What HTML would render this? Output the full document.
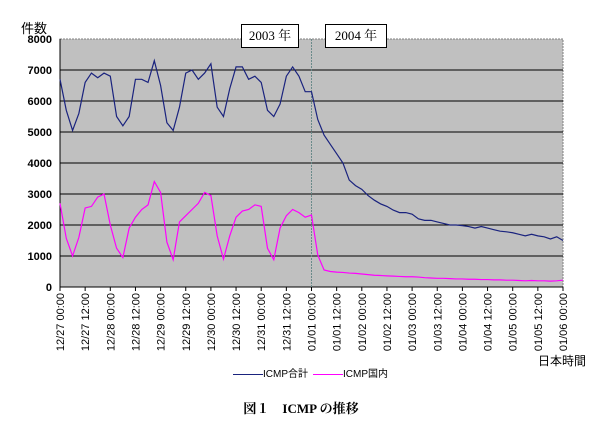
<!DOCTYPE html>
<html><head><meta charset="utf-8"><style>
body{margin:0;background:#fff;width:602px;height:425px;overflow:hidden}
svg{display:block}
</style></head><body>
<svg id="c" width="602" height="425" xmlns="http://www.w3.org/2000/svg"></svg>
<script>
const xLabels=["12/27 00:00","12/27 12:00","12/28 00:00","12/28 12:00","12/29 00:00","12/29 12:00","12/30 00:00","12/30 12:00","12/31 00:00","12/31 12:00","01/01 00:00","01/01 12:00","01/02 00:00","01/02 12:00","01/03 00:00","01/03 12:00","01/04 00:00","01/04 12:00","01/05 00:00","01/05 12:00","01/06 00:00"];
const yTicks=[0,1000,2000,3000,4000,5000,6000,7000,8000];
const totalSeries=[6700,5700,5050,5600,6600,6900,6750,6900, 6800,5500,5200,5500,6700,6700,6600,7300, 6500,5300,5050,5800,6900,7000,6700,6900, 7200,5800,5500,6400,7100,7100,6700,6800, 6600,5700,5500,5900,6800,7100,6800,6300, 6300,5400,4900,4600,4300,4000,3450,3270, 3150,2950,2800,2680,2600,2480,2400,2400, 2350,2200,2150,2150,2100,2050,2000,2000, 1980,1950,1900,1950,1900,1850,1800,1780, 1750,1700,1650,1700,1650,1620,1550,1620, 1500];
const domesticSeries=[2700,1570,1000,1600,2550,2600,2900,3000, 2000,1250,950,1900,2250,2500,2650,3400, 3050,1450,880,2100,2300,2500,2700,3050, 2950,1650,900,1650,2250,2450,2500,2650, 2600,1250,880,1900,2300,2500,2400,2250, 2320,1030,550,500,480,470,450,440, 420,400,380,370,360,350,340,330, 330,320,300,290,280,280,270,260, 260,250,250,240,240,230,230,220, 220,210,200,210,200,200,190,200, 220];
const NS="http://www.w3.org/2000/svg";
const svg=document.getElementById('c');
const L=60,R=563,T=39,B=287;
const sx=i=>L+(R-L)*i/(totalSeries.length-1);
const sy=v=>B-(B-T)*v/8000;
function mk(tag,attrs,parent){const e=document.createElementNS(NS,tag);for(const k in attrs)e.setAttribute(k,attrs[k]);(parent||svg).appendChild(e);return e;}
let e=mk('rect',{x:L,y:T,width:R-L,height:B-T,fill:'#c0c0c0',stroke:'#808080','stroke-dasharray':'2,1'});


yTicks.forEach(v=>{
  if(v>0&&v<8000){const g=mk('line',{x1:L,x2:R,y1:sy(v),y2:sy(v),stroke:'#000','stroke-width':1});
  
  }
  const t=mk('text',{x:52,y:sy(v)+4,'text-anchor':'end','font-family':'Liberation Sans,sans-serif','font-size':11,'font-weight':'bold'});
  t.textContent=v;
  
  
});
mk('line',{x1:L,x2:L,y1:T,y2:B,stroke:'#000'});
mk('line',{x1:L,x2:R,y1:B,y2:B,stroke:'#000'});
xLabels.forEach((s,i)=>{
  const x=L+(R-L)*i/(xLabels.length-1);
  mk('line',{x1:x,x2:x,y1:B,y2:B+4,stroke:'#000'});
  const t=mk('text',{transform:`translate(${x+4},293) rotate(-90)`,'text-anchor':'end','font-family':'Liberation Sans,sans-serif','font-size':11});
  t.textContent=s;
  
  
});
const yr=L+(R-L)*10/20;
e=mk('line',{x1:yr,x2:yr,y1:T,y2:B,stroke:'#6a8a8a','stroke-dasharray':'2,1'});


function poly(arr,color,name){
  const p=mk('polyline',{points:arr.map((v,i)=>sx(i)+','+sy(v)).join(' '),fill:'none',stroke:color,'stroke-width':1.2});
  
  
}
poly(totalSeries,'#1a237e','series-icmp-total');
poly(domesticSeries,'#ff00ff','series-icmp-domestic');
</script>
<div style="position:absolute;left:241px;top:24px;width:56px;height:22px;border:1px solid #000;background:#fff;font:13px 'Liberation Serif','Noto Serif CJK SC',serif;text-align:center;line-height:22px">2003 年</div>
<div style="position:absolute;left:325px;top:24px;width:60px;height:22px;border:1px solid #000;background:#fff;font:13px 'Liberation Serif','Noto Serif CJK SC',serif;text-align:center;line-height:22px">2004 年</div>
<div style="position:absolute;left:21px;top:18px;font:13px 'Liberation Sans','Noto Sans CJK JP',sans-serif">件数</div>
<div style="position:absolute;left:538px;top:352px;font:12px 'Liberation Sans','Noto Sans CJK JP',sans-serif">日本時間</div>
<div style="position:absolute;left:230px;top:363px;width:160px;height:16px;font:10px 'Liberation Sans','Noto Sans CJK JP',sans-serif">
<span style="position:absolute;left:3px;top:2px;white-space:nowrap"><span style="display:inline-block;width:30px;border-top:1px solid #1a237e;vertical-align:middle"></span>ICMP合計</span>
<span style="position:absolute;left:83px;top:2px;white-space:nowrap"><span style="display:inline-block;width:30px;border-top:1px solid #ff00ff;vertical-align:middle"></span>ICMP国内</span>
</div>
<div style="position:absolute;left:0;width:602px;top:398px;text-align:center;font:bold 13px 'Liberation Serif','Noto Serif CJK JP',serif">図１　ICMP の推移</div>
</body></html>
